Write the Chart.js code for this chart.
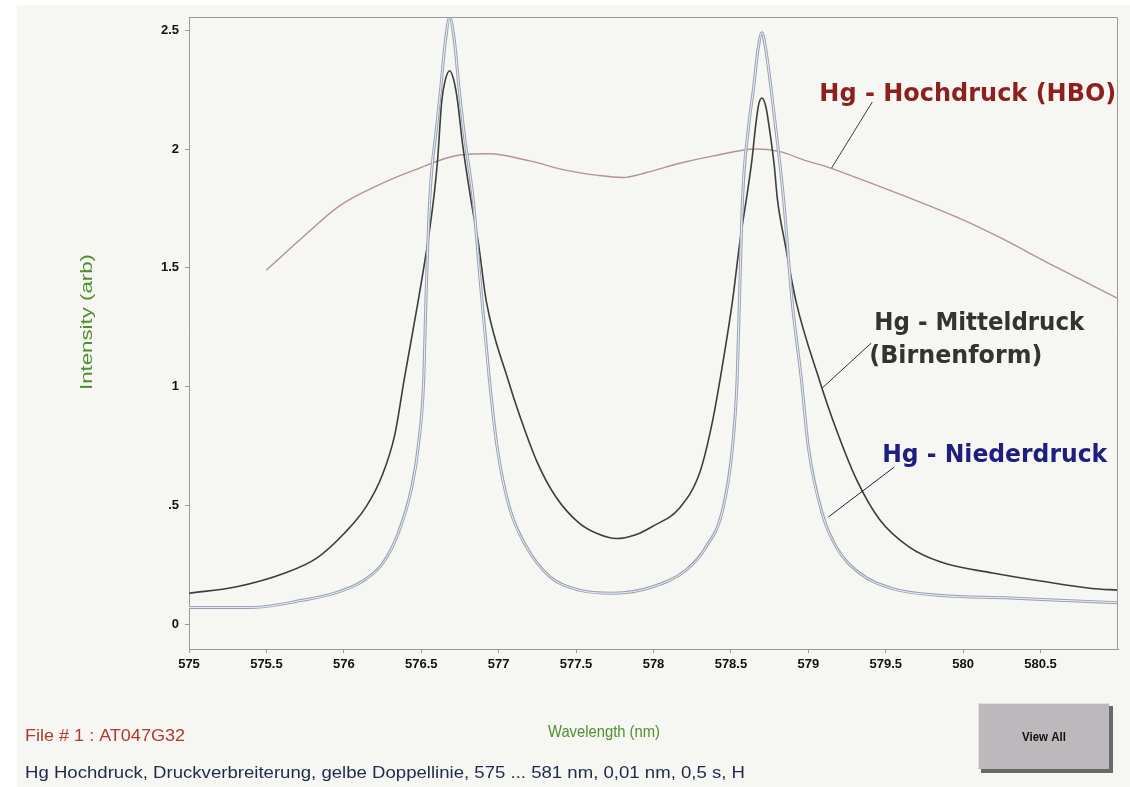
<!DOCTYPE html>
<html>
<head>
<meta charset="utf-8">
<title>Hg Hochdruck – gelbe Doppellinie</title>
<script src="https://cdn.jsdelivr.net/npm/chart.js@4.4.1/dist/chart.umd.min.js"></script>
<style>
  html, body { margin: 0; padding: 0; background: #ffffff; }
  #wrap { width: 1130px; height: 787px; }
</style>
</head>
<body>
<div id="wrap"><canvas id="spec" width="1130" height="787"></canvas></div>
<script>
// Wavelength axis (nm) and tick labels
const xTicks = [575, 575.5, 576, 576.5, 577, 577.5, 578, 578.5, 579, 579.5, 580, 580.5];
const yTicks = [0, 0.5, 1, 1.5, 2, 2.5];
const yTickLabels = ['0', '.5', '1', '1.5', '2', '2.5'];

// Hg - Hochdruck (HBO)
const hboWavelength = [575.50, 575.72, 575.97, 576.23, 576.45, 576.75, 576.94, 577.20, 577.44, 577.63,
  577.80, 577.95, 578.17, 578.38, 578.66, 578.81, 578.99, 579.12, 579.35, 579.59, 579.97, 580.23,
  580.55, 580.88, 581.00];
const hboIntensity = [1.49, 1.62, 1.76, 1.85, 1.91, 1.975, 1.98, 1.95, 1.91, 1.89,
  1.88, 1.90, 1.94, 1.97, 2.00, 1.99, 1.95, 1.925, 1.87, 1.81, 1.71, 1.63,
  1.52, 1.41, 1.37];

// Hg - Mitteldruck (Birnenform)
const mittelWavelength = [575.00, 575.30, 575.62, 575.83, 576.00, 576.14, 576.25, 576.33, 576.39, 576.48,
  576.545, 576.58, 576.605, 576.632, 576.655, 576.684, 576.71, 576.735, 576.765, 576.82,
  576.87, 576.92, 577.06, 577.14, 577.25, 577.37, 577.52, 577.64, 577.76, 577.88,
  577.99, 578.17, 578.30, 578.38, 578.43, 578.51, 578.56, 578.60, 578.635, 578.66,
  578.68, 578.70, 578.725, 578.75, 578.78, 578.80, 578.85, 578.92, 579.07, 579.18,
  579.31, 579.46, 579.65, 579.86, 580.19, 580.51, 580.83, 581.00];
const mittelIntensity = [0.13, 0.156, 0.215, 0.28, 0.38, 0.49, 0.63, 0.80, 1.03, 1.36,
  1.62, 1.79, 1.95, 2.20, 2.29, 2.33, 2.29, 2.20, 2.03, 1.79,
  1.60, 1.36, 1.03, 0.87, 0.68, 0.535, 0.425, 0.38, 0.36, 0.375,
  0.41, 0.49, 0.64, 0.85, 1.03, 1.36, 1.62, 1.79, 1.95, 2.10,
  2.19, 2.215, 2.18, 2.08, 1.93, 1.79, 1.60, 1.36, 1.03, 0.82,
  0.61, 0.44, 0.325, 0.26, 0.215, 0.18, 0.15, 0.143];

// Hg - Niederdruck
const niederWavelength = [575.00, 575.41, 575.73, 575.94, 576.12, 576.25, 576.35, 576.44, 576.48, 576.516,
  576.53, 576.555, 576.60, 576.625, 576.655, 576.684, 576.715, 576.745, 576.78, 576.835,
  576.88, 576.94, 576.99, 577.07, 577.18, 577.33, 577.52, 577.74, 577.99, 578.21,
  578.34, 578.45, 578.51, 578.54, 578.555, 578.575, 578.615, 578.645, 578.675, 578.70,
  578.725, 578.76, 578.80, 578.84, 578.895, 578.955, 579.00, 579.09, 579.18, 579.33,
  579.54, 579.86, 580.30, 580.62, 581.00];
const niederIntensity = [0.07, 0.07, 0.10, 0.13, 0.18, 0.255, 0.38, 0.58, 0.745, 1.03,
  1.36, 1.79, 2.10, 2.25, 2.45, 2.555, 2.45, 2.25, 2.05, 1.79,
  1.45, 1.03, 0.745, 0.49, 0.325, 0.20, 0.143, 0.13, 0.156, 0.227,
  0.325, 0.49, 0.745, 1.03, 1.36, 1.79, 2.10, 2.25, 2.42, 2.49,
  2.42, 2.25, 2.03, 1.79, 1.36, 1.03, 0.745, 0.465, 0.325, 0.215,
  0.15, 0.12, 0.11, 0.10, 0.09];

const toPoints = (xs, ys) => xs.map((x, i) => ({ x: x, y: ys[i] }));

// Labels with leader lines, anchored in data units
const callouts = [
  { lines: ['Hg - Hochdruck (HBO)'], color: '#8e1f1f', lineColor: '#4a3a3a',
    at: [[579.071, 2.227]], widths: [297], from: [579.413, 2.198], to: [579.15, 1.92] },
  { lines: ['Hg - Mitteldruck', '(Birnenform)'], color: '#333333', lineColor: '#333333',
    at: [[579.426, 1.263], [579.394, 1.124]], widths: [210, 173], from: [579.406, 1.183], to: [579.09, 0.994] },
  { lines: ['Hg - Niederdruck'], color: '#1d1f80', lineColor: '#1d1f50',
    at: [[579.477, 0.707]], widths: [225], from: [579.555, 0.661], to: [579.13, 0.451] }
];

function fitText(ctx, text, x, y, width, font, color, align) {
  ctx.save();
  ctx.font = font;
  ctx.fillStyle = color;
  ctx.textBaseline = 'middle';
  ctx.textAlign = 'left';
  const w = ctx.measureText(text).width;
  const sx = width / w;
  const left = align === 'center' ? x - width / 2 : x;
  ctx.translate(left, y);
  ctx.scale(sx, 1);
  ctx.fillText(text, 0, 0);
  ctx.restore();
}

const pagePlugin = {
  id: 'page',
  beforeDraw(chart) {
    const ctx = chart.ctx;
    ctx.save();
    ctx.fillStyle = '#ffffff';
    ctx.fillRect(0, 0, chart.width, chart.height);
    ctx.fillStyle = '#f6f6f3';
    ctx.fillRect(17, 5, chart.width - 17, chart.height - 5);
    ctx.restore();
  },
  afterDatasetsDraw(chart) {
    // light core of the Niederdruck trace
    const ctx = chart.ctx;
    const meta = chart.getDatasetMeta(2);
    const line = meta.dataset;
    const a = chart.chartArea;
    ctx.save();
    ctx.beginPath();
    ctx.rect(a.left, a.top, a.right - a.left, a.bottom - a.top);
    ctx.clip();
    const oc = line.options.borderColor, ow = line.options.borderWidth;
    line.options.borderColor = '#eef1f5';
    line.options.borderWidth = 1;
    line.draw(ctx, a);
    line.options.borderColor = oc;
    line.options.borderWidth = ow;
    ctx.restore();
  },
  afterDraw(chart) {
    const ctx = chart.ctx;
    const a = chart.chartArea;
    const xs = chart.scales.x, ys = chart.scales.y;

    // plot frame
    ctx.save();
    ctx.strokeStyle = '#9a9a9a';
    ctx.lineWidth = 1;
    ctx.beginPath();
    ctx.moveTo(a.left + 0.5, a.top + 0.5);
    ctx.lineTo(a.right - 0.5, a.top + 0.5);
    ctx.lineTo(a.right - 0.5, a.bottom);
    ctx.stroke();
    ctx.restore();

    // callouts
    callouts.forEach(c => {
      ctx.save();
      ctx.strokeStyle = c.lineColor;
      ctx.lineWidth = 1;
      ctx.beginPath();
      ctx.moveTo(xs.getPixelForValue(c.from[0]), ys.getPixelForValue(c.from[1]));
      ctx.lineTo(xs.getPixelForValue(c.to[0]), ys.getPixelForValue(c.to[1]));
      ctx.stroke();
      ctx.restore();
      c.lines.forEach((t, i) => {
        fitText(ctx, t, xs.getPixelForValue(c.at[i][0]), ys.getPixelForValue(c.at[i][1]),
          c.widths[i], 'bold 24px "DejaVu Sans"', c.color, 'left');
      });
    });

    // axis titles
    fitText(ctx, 'Wavelength (nm)', 604, 733, 112, '16px "Liberation Sans"', '#4f8f2f', 'center');
    ctx.save();
    ctx.translate(88, 322);
    ctx.rotate(-Math.PI / 2);
    fitText(ctx, 'Intensity (arb)', 0, 0, 136, '16px "Liberation Sans"', '#4f8f2f', 'center');
    ctx.restore();

    // footer texts
    fitText(ctx, 'File # 1 : AT047G32', 25, 737, 160, '16px "Liberation Sans"', '#b5382c', 'left');
    fitText(ctx, 'Hg Hochdruck, Druckverbreiterung, gelbe Doppellinie, 575 ... 581 nm, 0,01 nm, 0,5 s, H',
      25, 774, 720, '16px "Liberation Sans"', '#1d2a4a', 'left');

    // View All button
    ctx.save();
    ctx.fillStyle = '#6a6868';
    ctx.fillRect(981, 706, 132, 67);
    ctx.fillStyle = '#bcb8bb';
    ctx.fillRect(978, 703, 131, 66);
    ctx.strokeStyle = '#e2e0e2';
    ctx.lineWidth = 1;
    ctx.beginPath();
    ctx.moveTo(978.5, 768.5);
    ctx.lineTo(978.5, 703.5);
    ctx.lineTo(1108.5, 703.5);
    ctx.stroke();
    ctx.restore();
    fitText(ctx, 'View All', 1044, 737, 44, 'bold 13px "Liberation Sans"', '#111111', 'center');
  }
};

new Chart(document.getElementById('spec'), {
  type: 'line',
  data: {
    datasets: [
      { label: 'Hg - Hochdruck (HBO)', data: toPoints(hboWavelength, hboIntensity),
        borderColor: '#b39393', borderWidth: 1.4, order: 3 },
      { label: 'Hg - Mitteldruck (Birnenform)', data: toPoints(mittelWavelength, mittelIntensity),
        borderColor: '#3d3d3d', borderWidth: 1.6, order: 2 },
      { label: 'Hg - Niederdruck', data: toPoints(niederWavelength, niederIntensity),
        borderColor: '#97a2b2', borderWidth: 3, order: 1 }
    ]
  },
  options: {
    responsive: false,
    animation: false,
    events: [],
    layout: { padding: { top: 17, right: 12, left: 0, bottom: 0 } },
    elements: {
      point: { radius: 0 },
      line: { cubicInterpolationMode: 'monotone', fill: false }
    },
    plugins: { legend: { display: false }, tooltip: { enabled: false } },
    scales: {
      x: {
        type: 'linear', min: 575, max: 581,
        afterBuildTicks: s => { s.ticks = xTicks.map(v => ({ value: v })); },
        afterFit: s => { s.height = 138; },
        grid: { drawOnChartArea: false, drawTicks: true, tickLength: 4, color: '#9a9a9a' },
        border: { display: true, color: '#9a9a9a', width: 1 },
        ticks: { color: '#111', padding: 4, maxRotation: 0, autoSkip: false,
          font: { family: 'Liberation Sans', size: 13, weight: 'bold' },
          callback: v => String(v) }
      },
      y: {
        type: 'linear', min: -0.105, max: 2.556,
        afterBuildTicks: s => { s.ticks = yTicks.map(v => ({ value: v })); },
        afterFit: s => { s.width = 189; },
        grid: { drawOnChartArea: false, drawTicks: true, tickLength: 4, color: '#9a9a9a' },
        border: { display: true, color: '#9a9a9a', width: 1 },
        ticks: { color: '#111', padding: 6,
          font: { family: 'Liberation Sans', size: 13, weight: 'bold' },
          callback: v => yTickLabels[yTicks.indexOf(v)] }
      }
    }
  },
  plugins: [pagePlugin]
});
</script>
</body>
</html>
